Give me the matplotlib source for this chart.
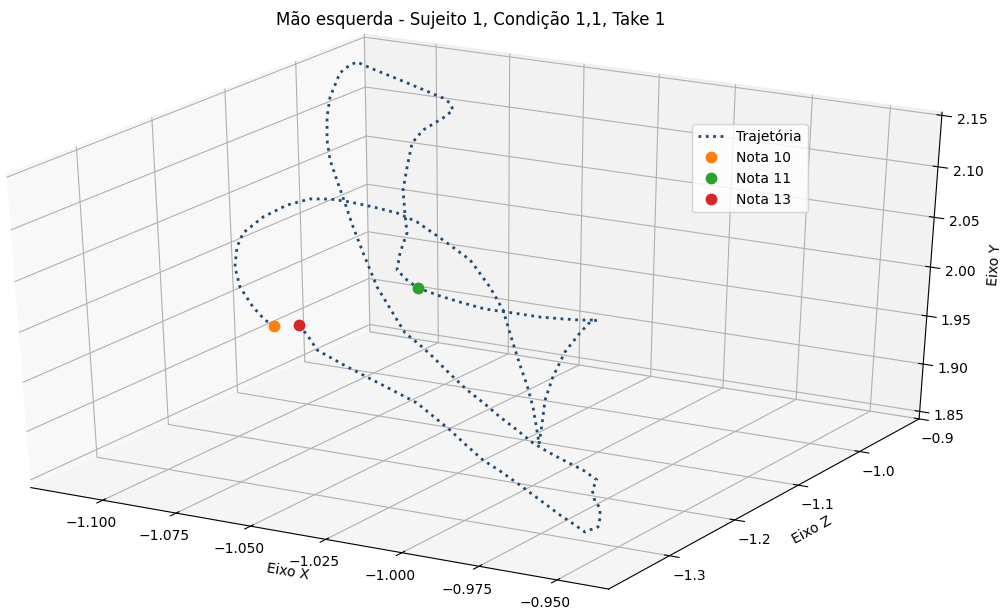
"""
3D trajectory of the left hand, with the note onsets marked
"""

import matplotlib
matplotlib.use("Agg")
import matplotlib.pyplot as plt
import numpy as np

TITLE = "Mão esquerda - Sujeito 1, Condição 1,1, Take 1"

# hand position: Eixo X, Eixo Z (depth) and Eixo Y (height)
traj_x = [-1.0998, -1.1041, -1.1093, -1.116, -1.1187, -1.1189, -1.1178, -1.1119, -1.1047, -1.098,
          -1.0911, -1.0832, -1.0743, -1.0651, -1.0562, -1.0454, -1.0331, -1.0233, -1.0168, -1.0105,
          -1.0057, -1.0012, -0.997, -0.9935, -0.9906, -0.9908, -0.992, -0.9917, -0.9911, -0.9885,
          -0.9874, -0.9862, -0.9938, -1.0015, -1.0111, -1.0222, -1.0337, -1.0422, -1.0521, -1.0618,
          -1.0678, -1.0734, -1.0746, -1.0744, -1.0773, -1.0801, -1.0809, -1.0814, -1.0799, -1.0754,
          -1.0742, -1.0764, -1.0798, -1.092, -1.1017, -1.1108, -1.1193, -1.1206, -1.1218, -1.1219,
          -1.1196, -1.1163, -1.1119, -1.1062, -1.1001, -1.0928, -1.0849, -1.0734, -1.0636, -1.055,
          -1.0466, -1.04, -1.031, -1.022, -1.0128, -1.0045, -0.9957, -0.9883, -0.9806, -0.9729,
          -0.9656, -0.959, -0.9594, -0.9574, -0.9547, -0.9546, -0.9552, -0.9588, -0.9604, -0.9667,
          -0.9728, -0.9815, -0.9923, -1.0001, -1.0079, -1.0154, -1.0233, -1.0312, -1.0388, -1.0505,
          -1.0613, -1.072, -1.0828, -1.087, -1.0912]
traj_z = [-1.145, -1.1401, -1.1352, -1.1254, -1.1205, -1.1156, -1.1107, -1.1058, -1.1009, -1.096,
          -1.096, -1.1009, -1.1058, -1.1107, -1.1205, -1.1303, -1.145, -1.1597, -1.1695, -1.1842,
          -1.194, -1.2038, -1.2136, -1.2234, -1.2332, -1.2283, -1.2185, -1.2087, -1.194, -1.1842,
          -1.1744, -1.1695, -1.1597, -1.1499, -1.1401, -1.1303, -1.1205, -1.1156, -1.1058, -1.096,
          -1.0862, -1.0764, -1.0666, -1.0568, -1.047, -1.0372, -1.0274, -1.0176, -1.0078, -0.998,
          -0.9882, -0.9833, -0.9784, -0.9637, -0.9539, -0.9441, -0.9343, -0.9392, -0.949, -0.9637,
          -0.9784, -0.9931, -1.0078, -1.0225, -1.0372, -1.0568, -1.0764, -1.1058, -1.1254, -1.145,
          -1.1597, -1.1695, -1.1842, -1.1989, -1.2136, -1.2283, -1.243, -1.2528, -1.2626, -1.2724,
          -1.2822, -1.292, -1.2969, -1.3018, -1.3067, -1.3067, -1.3067, -1.3018, -1.3018, -1.292,
          -1.2822, -1.2724, -1.2577, -1.2479, -1.2381, -1.2283, -1.2185, -1.2087, -1.1989, -1.1842,
          -1.1744, -1.1646, -1.1548, -1.1499, -1.145]
traj_y = [1.9393, 1.9419, 1.9513, 1.9657, 1.9835, 2.0023, 2.0156, 2.0329, 2.0467, 2.0543,
          2.0572, 2.0592, 2.0596, 2.0591, 2.0571, 2.0471, 2.0373, 2.0196, 2.0029, 1.9806,
          1.961, 1.9463, 1.9295, 1.9112, 1.9018, 1.9194, 1.9407, 1.9608, 1.9812, 1.9982,
          2.0064, 2.0074, 2.0006, 1.9949, 1.9891, 1.9848, 1.9802, 1.9808, 1.9801, 1.9807,
          1.983, 1.9875, 2.0013, 2.0187, 2.0347, 2.0537, 2.0736, 2.0945, 2.1052, 2.1162,
          2.1219, 2.1266, 2.1287, 2.1306, 2.133, 2.1346, 2.1365, 2.1344, 2.1286, 2.1085,
          2.0935, 2.0759, 2.0617, 2.0482, 2.0319, 2.0166, 1.9996, 1.9793, 1.9636, 1.9536,
          1.9501, 1.9443, 1.9362, 1.9293, 1.9246, 1.9205, 1.9169, 1.9109, 1.9081, 1.9064,
          1.9056, 1.9025, 1.8939, 1.8856, 1.8817, 1.8716, 1.8621, 1.8553, 1.8523, 1.8545,
          1.8559, 1.8631, 1.8696, 1.8744, 1.8781, 1.8853, 1.8943, 1.9013, 1.9076, 1.9101,
          1.9149, 1.9198, 1.9258, 1.9367, 1.9445]

# note onsets
note_names = ["Nota 10", "Nota 11", "Nota 13"]
note_x = [-1.0998, -1.0618, -1.0912]
note_z = [-1.145, -1.096, -1.145]
note_y = [1.9393, 1.9807, 1.9445]
note_colors = ["C1", "C2", "C3"]

x_range = (-1.1247, -0.9336)
z_range = (-1.39, -0.90)
y_range = (1.842, 2.153)


def main() -> None:
    """
    Draw the trajectory and save it
    """

    fig = plt.figure(figsize=(10.06, 6.14), dpi=100)
    ax = fig.add_axes([-0.1254, -0.0228, 1.1775, 1.0348], projection="3d")

    # old-style 3D: unit cube stretched to fill the (wide) axes box
    ax.apply_aspect = lambda position=None: None
    ax.set_box_aspect((1, 1, 1), zoom=np.sqrt(3) / 1.8294640721620434)
    ax.view_init(elev=30, azim=-60)

    ax.plot(traj_x, traj_z, traj_y, ":", color="#234a70", lw=2, label="Trajetória")
    for name, x, z, y, c in zip(note_names, note_x, note_z, note_y, note_colors):
        ax.plot([x], [z], [y], "o", color=c, ms=7.5, label=name)

    ax.set_xlim(*x_range)
    ax.set_ylim(*z_range)
    ax.set_zlim(*y_range)

    ax.set_xlabel("Eixo X")
    ax.set_ylabel("Eixo Z")
    ax.set_zlabel("Eixo Y")
    ax.zaxis.set_ticks_position("upper")
    ax.zaxis.set_label_position("upper")

    ax.legend(loc="upper left", bbox_to_anchor=(692 / 1006, 1 - 124 / 614),
              bbox_transform=fig.transFigure, borderaxespad=0)
    fig.text(0.468, 1 - 20 / 614, TITLE, ha="center", va="center", fontsize=12)

    fig.savefig("out.png", dpi=100)


if __name__ == "__main__":
    main()
